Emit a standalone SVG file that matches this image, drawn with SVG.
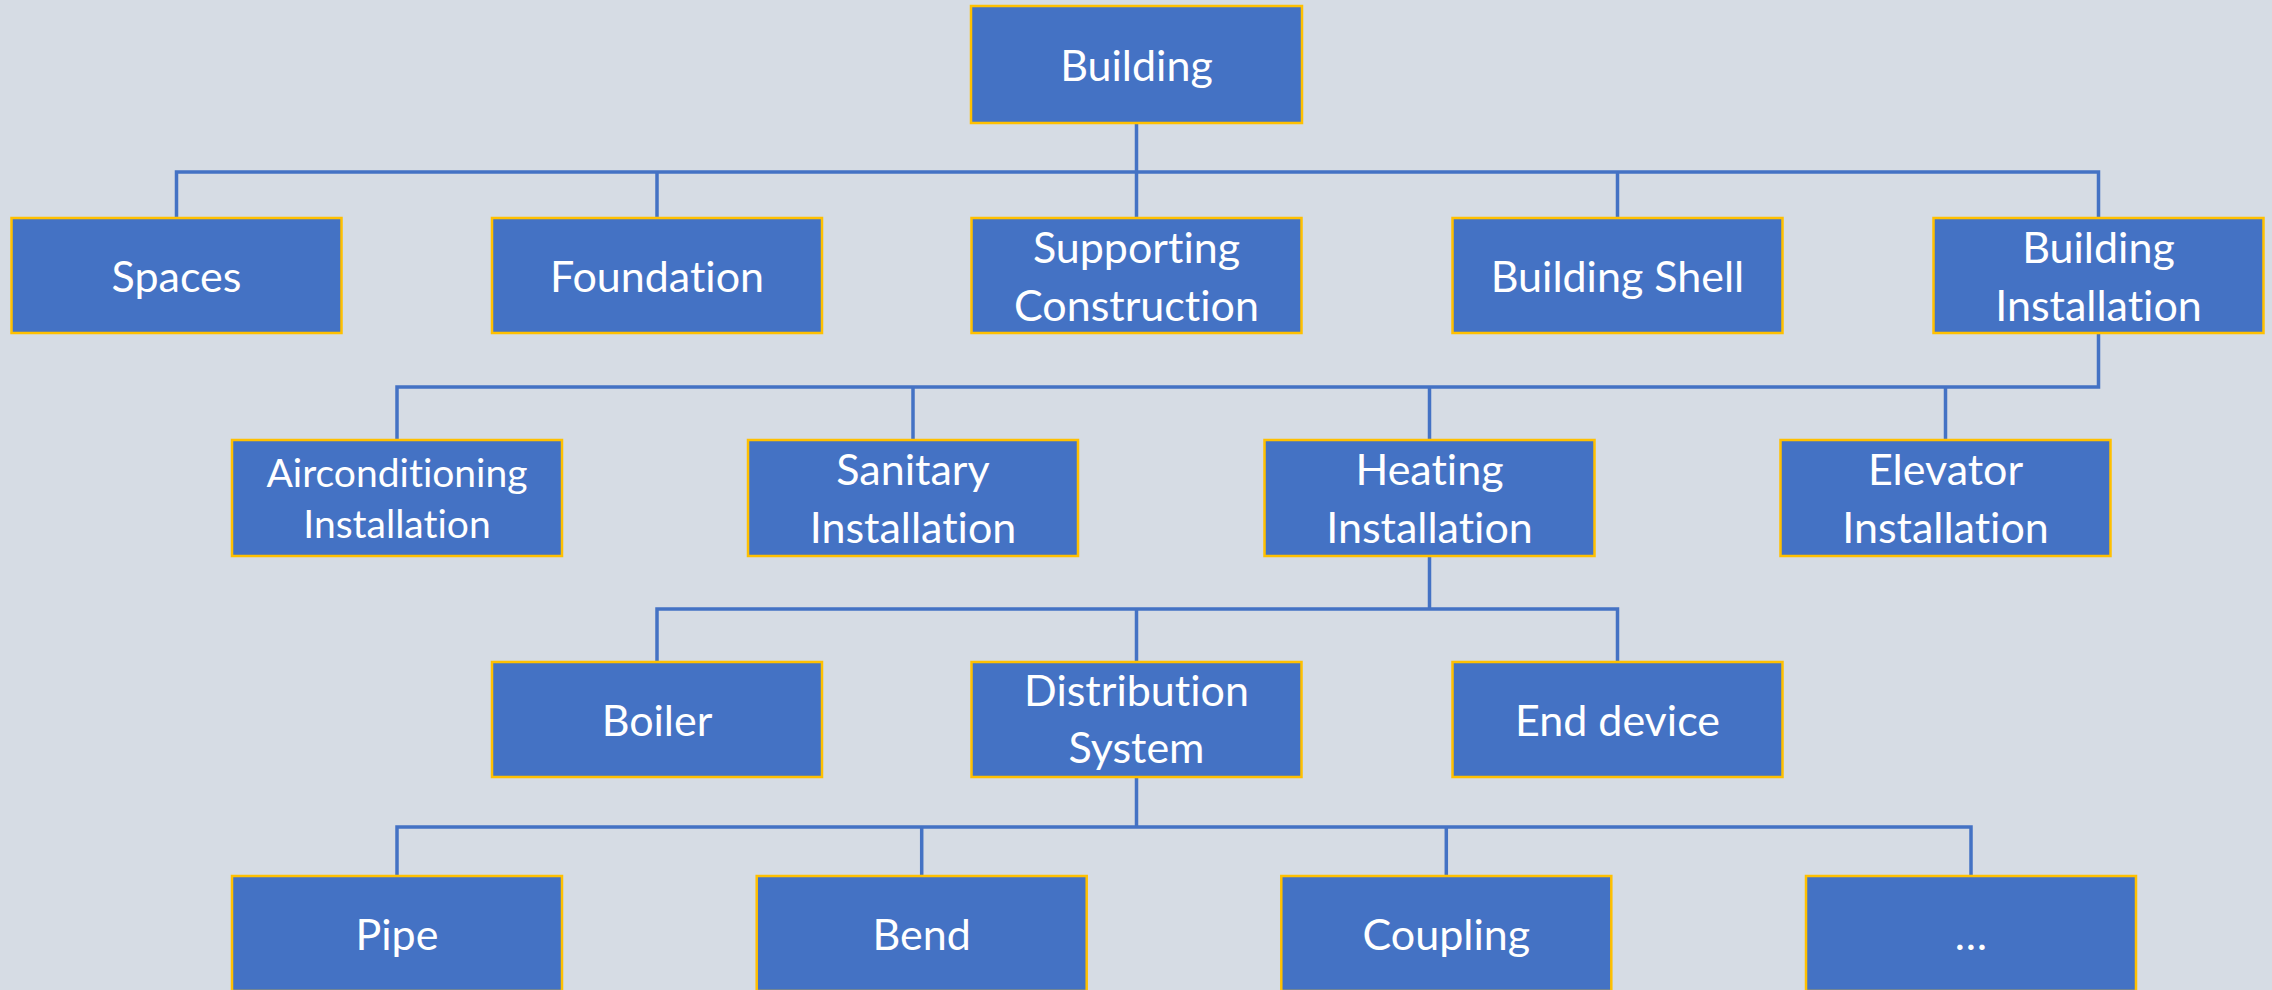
<svg xmlns="http://www.w3.org/2000/svg" width="2272" height="990" viewBox="0 0 2272 990">
  <style>
    .box { fill: #4472C4; stroke: #FFC000; stroke-width: 2.5; }
    .lbl { fill: #FFFFFF; font-family: Lato, "Open Sans", "Liberation Sans", sans-serif; font-size: 43px; text-anchor: middle; font-variant-ligatures: none; font-feature-settings: "liga" 0; }
    .sm { font-size: 39px; }
    .wire { fill: none; stroke: #4472C4; stroke-width: 3.5; stroke-linejoin: miter; }
  </style>
  <rect width="2272" height="990" fill="#D6DCE4"/>

  <!-- connectors -->
  <g id="connectors" class="wire">
    <path d="M1136.5 123 V172 M176.5 218 V172 H2098.5 V218 M657 172 V218 M1136.5 172 V218 M1617.5 172 V218"/>
    <path d="M2098.5 334 V387 H397 V440 M913 387 V440 M1429.5 387 V440 M1945.5 387 V440"/>
    <path d="M1429.5 556 V609 M657 662 V609 H1617.5 V662 M1136.5 609 V662"/>
    <path d="M1136.5 777 V827 M397 876 V827 H1971 V876 M921.7 827 V876 M1446.3 827 V876"/>
  </g>

  <!-- level 0 -->
  <g id="building">
    <rect class="box" x="971" y="6" width="331" height="117"/>
    <text class="lbl" x="1136.5" y="81">Building</text>
  </g>

  <!-- level 1 -->
  <g id="spaces">
    <rect class="box" x="11.5" y="218" width="330" height="115"/>
    <text class="lbl" x="176.5" y="292">Spaces</text>
  </g>
  <g id="foundation">
    <rect class="box" x="492" y="218" width="330" height="115"/>
    <text class="lbl" x="657" y="292">Foundation</text>
  </g>
  <g id="supporting-construction">
    <rect class="box" x="971.5" y="218" width="330" height="115"/>
    <text class="lbl" x="1136.5" y="263">Supporting</text>
    <text class="lbl" x="1136.5" y="320.5">Construction</text>
  </g>
  <g id="building-shell">
    <rect class="box" x="1452.5" y="218" width="330" height="115"/>
    <text class="lbl" x="1617.5" y="292">Building Shell</text>
  </g>
  <g id="building-installation">
    <rect class="box" x="1933.5" y="218" width="330" height="115"/>
    <text class="lbl" x="2098.5" y="263">Building</text>
    <text class="lbl" x="2098.5" y="320.5">Installation</text>
  </g>

  <!-- level 2 -->
  <g id="airconditioning-installation">
    <rect class="box" x="232" y="440" width="330" height="116"/>
    <text class="lbl sm" x="397" y="487">Airconditioning</text>
    <text class="lbl sm" x="397" y="537.5">Installation</text>
  </g>
  <g id="sanitary-installation">
    <rect class="box" x="748" y="440" width="330" height="116"/>
    <text class="lbl" x="913" y="485">Sanitary</text>
    <text class="lbl" x="913" y="542.5">Installation</text>
  </g>
  <g id="heating-installation">
    <rect class="box" x="1264.5" y="440" width="330" height="116"/>
    <text class="lbl" x="1429.5" y="485">Heating</text>
    <text class="lbl" x="1429.5" y="542.5">Installation</text>
  </g>
  <g id="elevator-installation">
    <rect class="box" x="1780.5" y="440" width="330" height="116"/>
    <text class="lbl" x="1945.5" y="485">Elevator</text>
    <text class="lbl" x="1945.5" y="542.5">Installation</text>
  </g>

  <!-- level 3 -->
  <g id="boiler">
    <rect class="box" x="492" y="662" width="330" height="115"/>
    <text class="lbl" x="657" y="736">Boiler</text>
  </g>
  <g id="distribution-system">
    <rect class="box" x="971.5" y="662" width="330" height="115"/>
    <text class="lbl" x="1136.5" y="706">Distribution</text>
    <text class="lbl" x="1136.5" y="763">System</text>
  </g>
  <g id="end-device">
    <rect class="box" x="1452.5" y="662" width="330" height="115"/>
    <text class="lbl" x="1617.5" y="736">End device</text>
  </g>

  <!-- level 4 -->
  <g id="pipe">
    <rect class="box" x="232" y="876" width="330" height="115"/>
    <text class="lbl" x="397" y="950">Pipe</text>
  </g>
  <g id="bend">
    <rect class="box" x="756.7" y="876" width="330" height="115"/>
    <text class="lbl" x="921.7" y="950">Bend</text>
  </g>
  <g id="coupling">
    <rect class="box" x="1281.3" y="876" width="330" height="115"/>
    <text class="lbl" x="1446.3" y="950">Coupling</text>
  </g>
  <g id="more">
    <rect class="box" x="1806" y="876" width="330" height="115"/>
    <text class="lbl" x="1971" y="950">…</text>
  </g>
</svg>
